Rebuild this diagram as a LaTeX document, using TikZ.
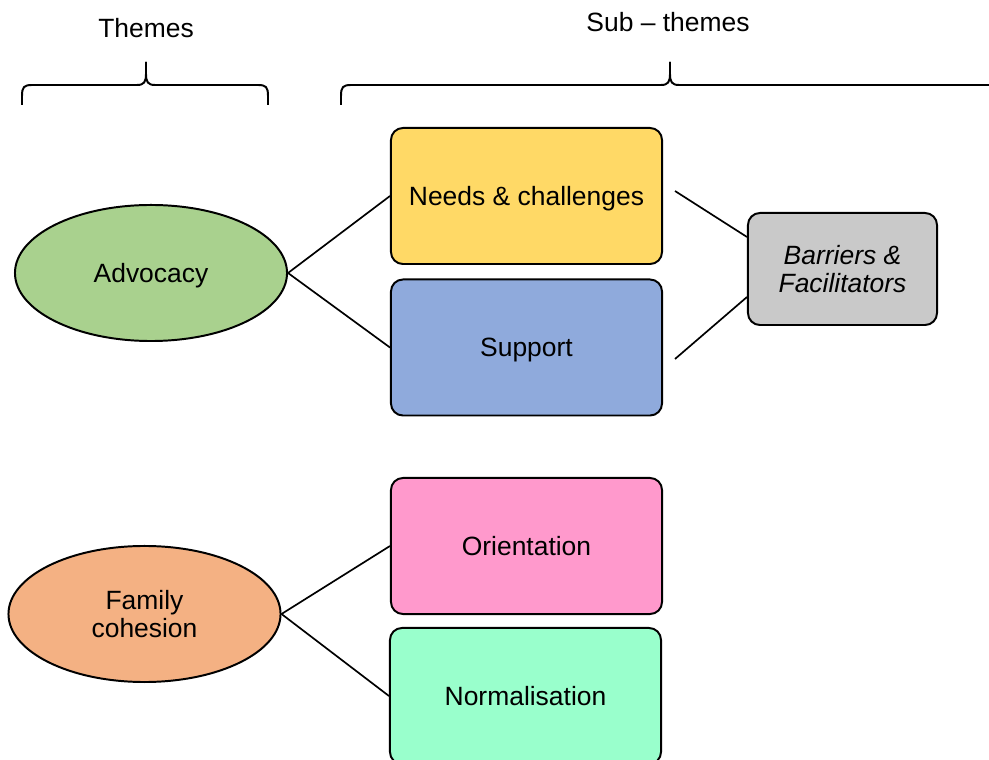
\documentclass[tikz,border=0pt]{standalone}
\usepackage{fontspec}
\setmainfont{Liberation Sans}
\usetikzlibrary{shapes.geometric,calc}
\definecolor{themeGreen}{HTML}{A9D18E}
\definecolor{themeOrange}{HTML}{F4B183}
\definecolor{subYellow}{HTML}{FFD966}
\definecolor{subBlue}{HTML}{8FAADC}
\definecolor{subPink}{HTML}{FF99CC}
\definecolor{subMint}{HTML}{99FFCC}
\definecolor{subGray}{HTML}{C9C9C9}
\tikzset{
  theme map/.style={
    draw=black, line width=1.4pt,
    every node/.style={font=\fontsize{18.8}{20}\selectfont,
      text=black, align=center, inner sep=0pt}
  },
  theme oval/.style={ellipse, draw=black, minimum width=6.8cm, minimum height=3.4cm},
  sub box/.style={draw=black, rounded corners=0.3cm, text depth=0pt,
    minimum width=6.775cm, minimum height=3.4cm},
  link/.style={draw=black, line width=1.2pt}
}
% brace over a column: left x, tip x, right x
\newcommand{\ThemeBrace}[3]{%
  \draw (#2,62) -- (#2,74) .. controls (#2,82) and (#2-2,85) .. (#2-9,85)
    -- (#1+10,85) .. controls (#1+2,85) and (#1,87) .. (#1,96) -- (#1,105);
  \draw (#2,62) -- (#2,74) .. controls (#2,82) and (#2+2,85) .. (#2+9,85)
    -- (#3-10,85) .. controls (#3-2,85) and (#3,87) .. (#3,96) -- (#3,105);
}

\begin{document}
\begin{tikzpicture}[theme map,x=0.025cm,y=-0.025cm]
    \useasboundingbox (0,0) rectangle (989,760);
    % column headings
    \node (themes) at (146,28) {Themes};
    \node (subthemes) at (668,22) {Sub -- themes};
    \ThemeBrace{22}{146}{268}
    \ThemeBrace{341}{670}{999}
    % themes
    \node[theme oval, fill=themeGreen, text depth=0pt] (advocacy) at (151,273) {Advocacy};
    \node[theme oval, fill=themeOrange] (family) at (144.5,614) {Family\\cohesion};
    % sub-themes
    \node[sub box, fill=subYellow] (needs) at (526.5,196) {Needs \& challenges};
    \node[sub box, fill=subBlue] (support) at (526.5,347.5) {Support};
    \node[sub box, fill=subPink] (orientation) at (526.5,546) {Orientation};
    \node[sub box, fill=subMint] (normalisation) at (525.5,696) {Normalisation};
    \node[draw=black, rounded corners=0.3cm, fill=subGray,
      minimum width=4.725cm, minimum height=2.8cm] (barriers) at (842.5,269)
      {\itshape Barriers \&\\\itshape Facilitators};
    \coordinate (needsend) at (675,191);
    \coordinate (supportend) at (675,359);
    \coordinate (barrierstop) at ($(barriers.west)+(0,-32)$);
    \coordinate (barriersbot) at ($(barriers.west)+(0,28)$);
    % links
    \draw[link] (advocacy.east) -- (needs.west);
    \draw[link] (advocacy.east) -- (support.west);
    \draw[link] (family.east) -- (orientation.west);
    \draw[link] (family.east) -- (normalisation.west);
    \draw[link] (needsend) -- (barrierstop);
    \draw[link] (supportend) -- (barriersbot);
\end{tikzpicture}
\end{document}
